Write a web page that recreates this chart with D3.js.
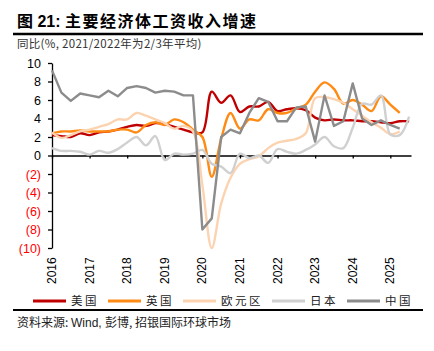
<!DOCTYPE html>
<html>
<head>
<meta charset="utf-8">
<script src="https://cdn.jsdelivr.net/npm/d3@7"></script>
<style>
  body { margin: 0; background: #fff; }
  svg text { font-family: "Liberation Sans", Arial, "Noto Sans CJK SC", sans-serif; }
  .cjk { font-family: "Noto Sans CJK SC", sans-serif; }
</style>
</head>
<body>
<svg width="434" height="351"></svg>
<script>
// quarterly readings, first point = 2016 Q1
const startYear = 2016;
const yearLabels = ['2016','2017','2018','2019','2020','2021','2022','2023','2024','2025'];
const yTicks = [10, 8, 6, 4, 2, 0, -2, -4, -6, -8, -10];

const usWage = [2.2,2.1,2.0,2.4,2.2,2.5,2.6,2.8,3.1,3.3,3.2,3.5,3.4,3.1,2.8,2.5,
  2.5,6.9,5.7,6.5,4.7,5.3,5.3,5.8,4.8,5.0,5.1,4.9,4.1,3.8,3.9,3.8,3.8,3.7,3.7,3.6,3.5,3.7,3.7];
const ukWage = [2.4,2.6,2.6,2.7,2.6,2.6,2.6,2.8,2.8,2.5,3.3,3.6,3.3,3.9,3.6,2.8,
  2.0,-2.3,1.8,4.6,2.9,3.9,3.8,5.0,4.6,4.6,5.1,5.5,6.9,7.9,7.2,5.6,6.0,5.5,4.8,6.4,5.5,4.6];
const euWage = [2.5,1.9,2.2,2.6,2.8,3.1,3.4,3.9,3.9,4.6,4.3,3.9,3.5,2.9,3.2,2.6,
  -3.2,-10.0,-5.2,-2.4,-0.9,-0.4,-0.1,0.8,1.4,1.6,1.8,2.4,6.2,6.3,6.1,5.7,5.0,4.3,3.6,3.0,2.3,2.6];
const jpWage = [0.8,0.5,0.5,0.4,0.1,0.5,0.3,0.7,1.4,2.0,1.1,2.1,-0.5,0.2,0.1,0.2,
  0.6,-0.9,-1.2,-1.9,0.2,-0.3,0.0,-0.8,0.7,0.4,0.2,0.6,1.2,2.0,1.0,0.8,3.0,5.6,5.5,6.5,2.3,2.2,4.2];
const cnWage = [9.2,6.8,5.9,6.7,6.5,6.3,7.0,6.4,7.3,7.5,7.3,6.8,7.0,6.9,6.5,6.5,
  -8.0,-6.8,2.0,2.8,2.4,4.6,6.2,5.8,3.7,3.7,5.2,5.3,1.5,6.5,3.2,3.7,7.8,4.0,3.3,3.8,3.3,2.9];

const series = [
  {name: '美国', values: usWage, color: '#c00000', smooth: true},
  {name: '英国', values: ukWage, color: '#ff8a14', smooth: true},
  {name: '欧元区', values: euWage, color: '#fcd3b0', smooth: true},
  {name: '日本', values: jpWage, color: '#d0d0d0', smooth: true},
  {name: '中国', values: cnWage, color: '#8c8c8c', smooth: false}
];

const svg = d3.select('svg');

// title block
const title = svg.append('text')
  .attr('x', 17).attr('y', 27)
  .attr('font-size', 16).attr('font-weight', 'bold')
  .attr('fill', '#000');
title.append('tspan').text('图 21: ');
title.append('tspan').attr('class', 'cjk').attr('letter-spacing', 1.5)
  .text('主要经济体工资收入增速');

svg.append('line')
  .attr('x1', 13).attr('x2', 423).attr('y1', 34).attr('y2', 34)
  .attr('stroke', '#000').attr('stroke-width', 2.5);

svg.append('text')
  .attr('x', 17).attr('y', 48)
  .attr('font-size', 11.5).attr('fill', '#333')
  .attr('class', 'cjk')
  .attr('letter-spacing', 0.3)
  .text('同比(%, 2021/2022年为2/3年平均)');

// scales
const xScale = d3.scaleLinear()
  .domain([2016, 2025.55])
  .range([52, 411]);

const yScale = d3.scaleLinear()
  .domain([-10, 10])
  .range([248, 63]);

// y axis
const yAxisG = svg.append('g')
  .attr('transform', 'translate(52,0)')
  .call(d3.axisLeft(yScale).tickValues(yTicks).tickSize(4).tickSizeOuter(0)
    .tickFormat(d => d < 0 ? `(${-d})` : d));
yAxisG.select('.domain').attr('stroke', '#000').attr('stroke-width', 1.3);
yAxisG.selectAll('.tick line').attr('stroke', '#000').attr('stroke-width', 1.3);
yAxisG.selectAll('.tick text')
  .attr('font-size', 12.5)
  .attr('x', -11)
  .attr('fill', d => d < 0 ? '#ff0000' : '#000');

// zero axis with year ticks
const xAxisG = svg.append('g')
  .attr('transform', `translate(0,${yScale(0)})`)
  .call(d3.axisBottom(xScale)
    .tickValues(yearLabels.map(Number))
    .tickSize(3).tickSizeOuter(0)
    .tickFormat(() => ''));
xAxisG.select('.domain').attr('stroke', '#000').attr('stroke-width', 1.3);
xAxisG.selectAll('.tick line').attr('stroke', '#000').attr('stroke-width', 1.3);

// year labels at the bottom, rotated
svg.append('g').selectAll('text').data(yearLabels)
  .enter().append('text')
  .attr('transform', d => `translate(${xScale(+d) + 4},284) rotate(-90)`)
  .attr('font-size', 12)
  .attr('fill', '#000')
  .text(d => d);

// lines
const lineFor = s => d3.line()
  .x((d, i) => xScale(startYear + i * 0.25))
  .y(d => yScale(d))
  .curve(s.smooth ? d3.curveCatmullRom.alpha(0.5) : d3.curveLinear);

svg.append('g').selectAll('path').data(series)
  .enter().append('path')
  .attr('d', s => lineFor(s)(s.values))
  .attr('fill', 'none')
  .attr('stroke', s => s.color)
  .attr('stroke-width', 2.4)
  .attr('stroke-linejoin', 'round');

// legend
const legendX = [33, 108, 183, 272, 347];
const legend = svg.append('g').selectAll('g').data(series)
  .enter().append('g')
  .attr('transform', (d, i) => `translate(${legendX[i]},301)`);
legend.append('line')
  .attr('x1', 0).attr('x2', 33)
  .attr('stroke', d => d.color).attr('stroke-width', 3);
legend.append('text')
  .attr('x', 38).attr('y', 4)
  .attr('font-size', 11.5)
  .attr('class', 'cjk')
  .attr('letter-spacing', 2.5)
  .attr('fill', '#222')
  .text(d => d.name);

svg.append('line')
  .attr('x1', 13).attr('x2', 423).attr('y1', 310).attr('y2', 310)
  .attr('stroke', '#000').attr('stroke-width', 2);

const source = svg.append('text')
  .attr('x', 17).attr('y', 327)
  .attr('font-size', 12)
  .attr('fill', '#222');
source.append('tspan').attr('class', 'cjk').text('资料来源: ');
source.append('tspan').text('Wind, ');
source.append('tspan').attr('class', 'cjk').text('彭博, 招银国际环球市场');
</script>
</body>
</html>
